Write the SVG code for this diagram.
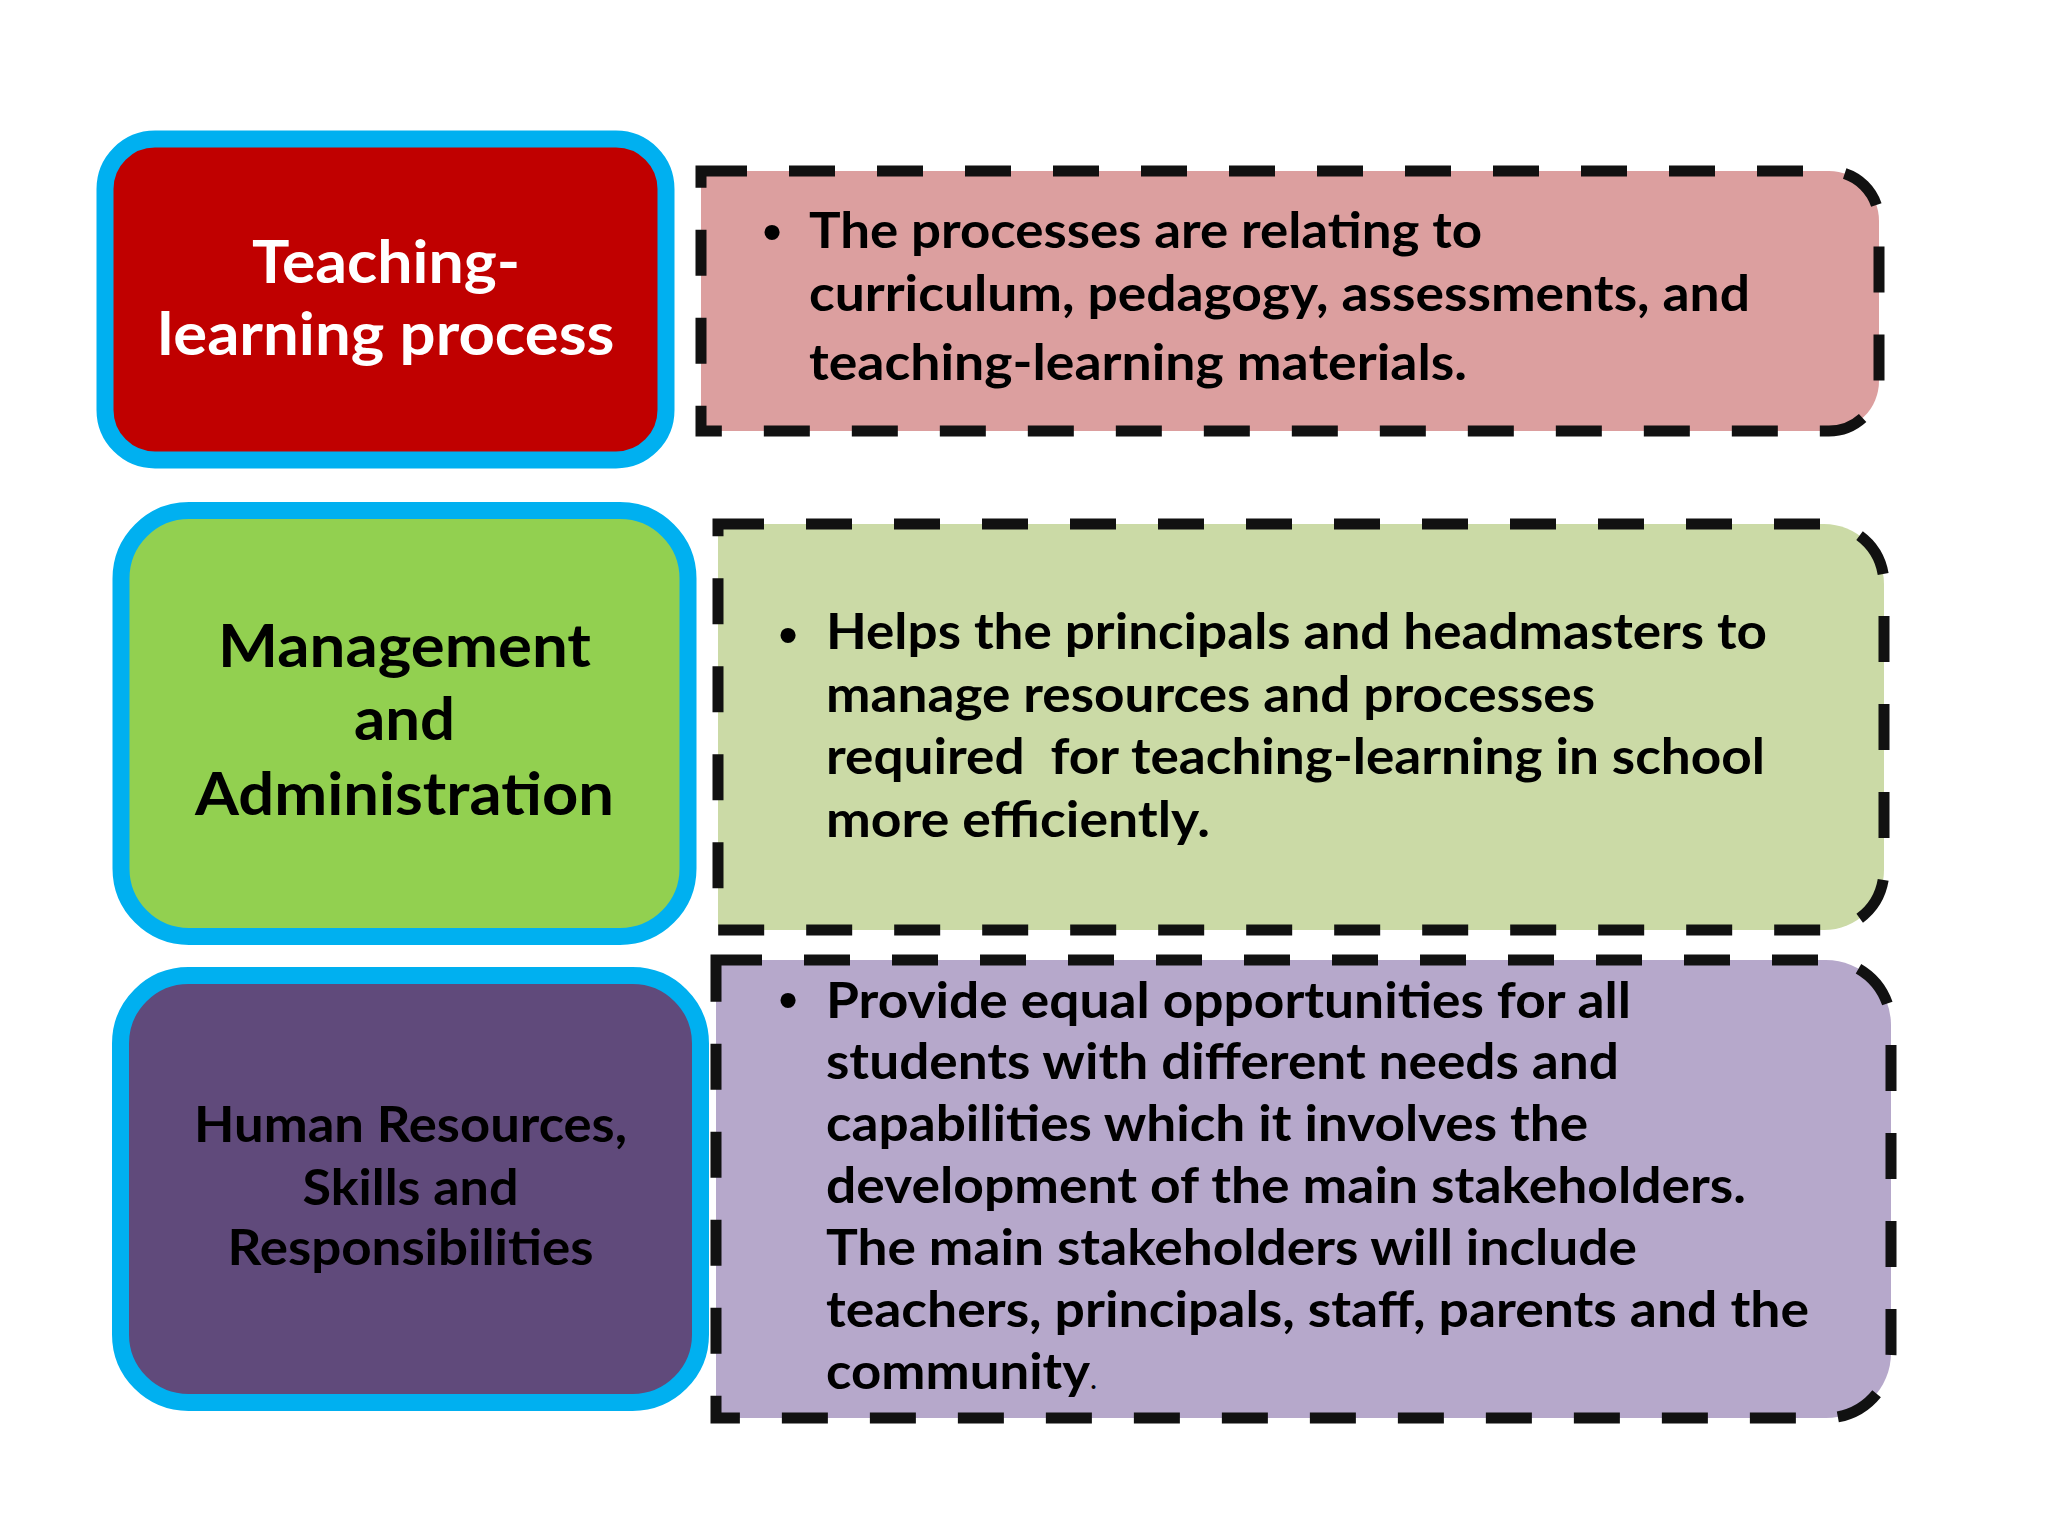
<svg xmlns="http://www.w3.org/2000/svg" width="2048" height="1536" viewBox="0 0 2048 1536">
<style>
.topic{stroke:#00B0F0;stroke-width:17}
.desc{stroke:#111111;stroke-width:11;stroke-dasharray:46 42}
.lbl{font-family:Lato,"Liberation Sans",sans-serif;font-weight:bold;text-anchor:middle}
.txt{font-family:Lato,"Liberation Sans",sans-serif;font-weight:bold;font-size:50px;fill:#000000;white-space:pre}
.bul{font-family:"Liberation Sans",Arial,sans-serif;font-size:56px;fill:#000000;text-anchor:middle}
</style>
<rect width="2048" height="1536" fill="#FFFFFF"/>
<g id="connectors"></g>

<g id="node-teaching">
<rect class="topic" x="105" y="139" width="561" height="321" rx="50" ry="50" fill="#C00000"/>
<text class="lbl" font-size="60" fill="#FFFFFF"><tspan x="386" y="283" textLength="268" lengthAdjust="spacingAndGlyphs">Teaching-</tspan><tspan x="386" y="355" textLength="457" lengthAdjust="spacingAndGlyphs">learning process</tspan></text>
</g>

<g id="desc-teaching">
<path class="desc" d="M701,171 H1829 A50,50 0 0 1 1879,221 V381 A50,50 0 0 1 1829,431 H701 Z" fill="#DC9F9F"/>
<text class="bul" x="772" y="251">•</text>
<text class="txt"><tspan x="809" y="248" textLength="673" lengthAdjust="spacingAndGlyphs">The processes are relating to</tspan><tspan x="809" y="311" textLength="941" lengthAdjust="spacingAndGlyphs">curriculum, pedagogy, assessments, and</tspan><tspan x="809" y="380" textLength="658" lengthAdjust="spacingAndGlyphs">teaching-learning materials.</tspan></text>
</g>

<g id="node-management">
<rect class="topic" x="121" y="510.5" width="567" height="426" rx="68" ry="68" fill="#92D050"/>
<text class="lbl" font-size="60" fill="#000000"><tspan x="404.5" y="667" textLength="373" lengthAdjust="spacingAndGlyphs">Management</tspan><tspan x="404.5" y="740" textLength="101" lengthAdjust="spacingAndGlyphs">and</tspan><tspan x="404.5" y="815" textLength="419" lengthAdjust="spacingAndGlyphs">Administration</tspan></text>
</g>

<g id="desc-management">
<path class="desc" d="M718,524 H1824 A60,60 0 0 1 1884,584 V870 A60,60 0 0 1 1824,930 H718 Z" fill="#CBDAA6"/>
<text class="bul" x="788" y="654">•</text>
<text class="txt"><tspan x="826" y="649" textLength="941" lengthAdjust="spacingAndGlyphs">Helps the principals and headmasters to</tspan><tspan x="826" y="712" textLength="769" lengthAdjust="spacingAndGlyphs">manage resources and processes</tspan><tspan x="826" y="774" textLength="939" lengthAdjust="spacingAndGlyphs">required  for teaching-learning in school</tspan><tspan x="826" y="837" textLength="384" lengthAdjust="spacingAndGlyphs">more efficiently.</tspan></text>
</g>

<g id="node-human">
<rect class="topic" x="120.5" y="975.5" width="580" height="427" rx="68" ry="68" fill="#604A7B"/>
<text class="lbl" font-size="50" fill="#000000"><tspan x="410.5" y="1142" textLength="433" lengthAdjust="spacingAndGlyphs">Human Resources,</tspan><tspan x="410.5" y="1205" textLength="216" lengthAdjust="spacingAndGlyphs">Skills and</tspan><tspan x="410.5" y="1265" textLength="366" lengthAdjust="spacingAndGlyphs">Responsibilities</tspan></text>
</g>

<g id="desc-human">
<path class="desc" d="M716,960 H1826 A65,65 0 0 1 1891,1025 V1353 A65,65 0 0 1 1826,1418 H716 Z" fill="#B6A8CB"/>
<text class="bul" x="788" y="1019">•</text>
<text class="txt"><tspan x="826" y="1018" textLength="805" lengthAdjust="spacingAndGlyphs">Provide equal opportunities for all</tspan><tspan x="826" y="1079" textLength="793" lengthAdjust="spacingAndGlyphs">students with different needs and</tspan><tspan x="826" y="1141" textLength="762" lengthAdjust="spacingAndGlyphs">capabilities which it involves the</tspan><tspan x="826" y="1203" textLength="920" lengthAdjust="spacingAndGlyphs">development of the main stakeholders.</tspan><tspan x="826" y="1265" textLength="811" lengthAdjust="spacingAndGlyphs">The main stakeholders will include</tspan><tspan x="826" y="1327" textLength="983" lengthAdjust="spacingAndGlyphs">teachers, principals, staff, parents and the</tspan><tspan x="826" y="1389" textLength="264" lengthAdjust="spacingAndGlyphs">community</tspan><tspan font-weight="normal" font-size="30">.</tspan></text>
</g>
</svg>
